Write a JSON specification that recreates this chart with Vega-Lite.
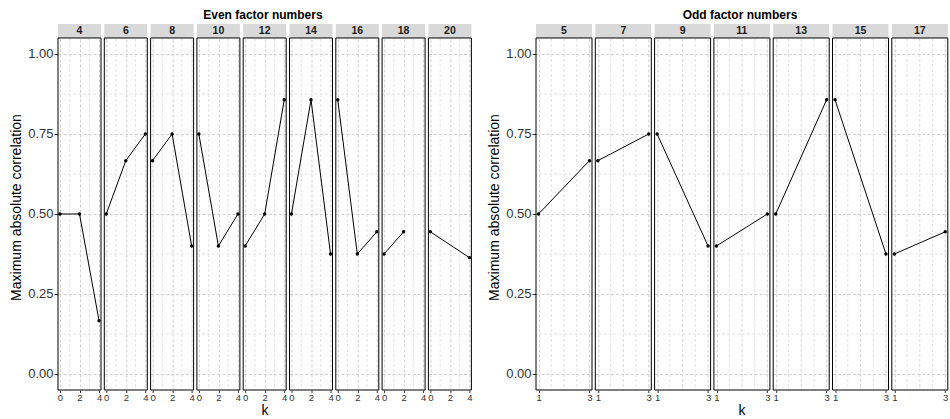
{
  "$schema": "https://vega.github.io/schema/vega-lite/v6.json",
  "padding": {"left": 9, "top": 8, "right": 0, "bottom": 0},
  "spacing": 14,
  "datasets": {
    "even": [
      {"n": 4, "k": 0, "r": 0.5}, {"n": 4, "k": 2, "r": 0.5}, {"n": 4, "k": 4, "r": 0.1667},
      {"n": 6, "k": 0, "r": 0.5}, {"n": 6, "k": 2, "r": 0.6667}, {"n": 6, "k": 4, "r": 0.75},
      {"n": 8, "k": 0, "r": 0.6667}, {"n": 8, "k": 2, "r": 0.75}, {"n": 8, "k": 4, "r": 0.4},
      {"n": 10, "k": 0, "r": 0.75}, {"n": 10, "k": 2, "r": 0.4}, {"n": 10, "k": 4, "r": 0.5},
      {"n": 12, "k": 0, "r": 0.4}, {"n": 12, "k": 2, "r": 0.5}, {"n": 12, "k": 4, "r": 0.8571},
      {"n": 14, "k": 0, "r": 0.5}, {"n": 14, "k": 2, "r": 0.8571}, {"n": 14, "k": 4, "r": 0.375},
      {"n": 16, "k": 0, "r": 0.8571}, {"n": 16, "k": 2, "r": 0.375}, {"n": 16, "k": 4, "r": 0.4444},
      {"n": 18, "k": 0, "r": 0.375}, {"n": 18, "k": 2, "r": 0.4444},
      {"n": 20, "k": 0, "r": 0.4444}, {"n": 20, "k": 4, "r": 0.3636}
    ],
    "odd": [
      {"n": 5, "k": 1, "r": 0.5}, {"n": 5, "k": 3, "r": 0.6667},
      {"n": 7, "k": 1, "r": 0.6667}, {"n": 7, "k": 3, "r": 0.75},
      {"n": 9, "k": 1, "r": 0.75}, {"n": 9, "k": 3, "r": 0.4},
      {"n": 11, "k": 1, "r": 0.4}, {"n": 11, "k": 3, "r": 0.5},
      {"n": 13, "k": 1, "r": 0.5}, {"n": 13, "k": 3, "r": 0.8571},
      {"n": 15, "k": 1, "r": 0.8571}, {"n": 15, "k": 3, "r": 0.375},
      {"n": 17, "k": 1, "r": 0.375}, {"n": 17, "k": 3, "r": 0.4444}
    ]
  },
  "hconcat": [
    {
      "data": {"name": "even"},
      "title": {"text": "Even factor numbers", "dx": 22},
      "facet": {"column": {"field": "n", "type": "ordinal", "sort": "ascending", "header": {"title": "k", "titleOrient": "bottom", "labels": false}}},
      "spacing": {"column": 3.3},
      "bounds": "flush",
      "spec": {
        "width": 43,
        "height": 366,
        "layer": [
          {"transform": [{"aggregate": [{"op": "count", "as": "c"}], "groupby": ["n"]}], "mark": {"type": "rule", "color": "#dcdcdc", "strokeDash": [3, 2], "strokeWidth": 0.8}, "encoding": {"y": {"datum": 0.125, "type": "quantitative"}}},
          {"transform": [{"aggregate": [{"op": "count", "as": "c"}], "groupby": ["n"]}], "mark": {"type": "rule", "color": "#dcdcdc", "strokeDash": [3, 2], "strokeWidth": 0.8}, "encoding": {"y": {"datum": 0.375, "type": "quantitative"}}},
          {"transform": [{"aggregate": [{"op": "count", "as": "c"}], "groupby": ["n"]}], "mark": {"type": "rule", "color": "#dcdcdc", "strokeDash": [3, 2], "strokeWidth": 0.8}, "encoding": {"y": {"datum": 0.625, "type": "quantitative"}}},
          {"transform": [{"aggregate": [{"op": "count", "as": "c"}], "groupby": ["n"]}], "mark": {"type": "rule", "color": "#dcdcdc", "strokeDash": [3, 2], "strokeWidth": 0.8}, "encoding": {"y": {"datum": 0.875, "type": "quantitative"}}},
          {"transform": [{"aggregate": [{"op": "count", "as": "c"}], "groupby": ["n"]}], "mark": {"type": "rule", "color": "#dcdcdc", "strokeDash": [3, 2], "strokeWidth": 0.8}, "encoding": {"x": {"datum": 1, "type": "quantitative"}}},
          {"transform": [{"aggregate": [{"op": "count", "as": "c"}], "groupby": ["n"]}], "mark": {"type": "rule", "color": "#dcdcdc", "strokeDash": [3, 2], "strokeWidth": 0.8}, "encoding": {"x": {"datum": 3, "type": "quantitative"}}},
          {
            "transform": [{"aggregate": [{"op": "count", "as": "c"}], "groupby": ["n"]}],
            "mark": {"type": "rect", "fill": "#d9d9d9"},
            "encoding": {
              "x": {"datum": -0.2, "type": "quantitative", "scale": {"domain": [-0.2, 4.2], "nice": false, "zero": false}},
              "x2": {"datum": 4.2},
              "y": {"datum": 1.05, "type": "quantitative", "scale": {"domain": [-0.05, 1.0937], "nice": false, "zero": false}},
              "y2": {"datum": 1.0937}
            }
          },
          {
            "mark": {"type": "line", "color": "black", "strokeWidth": 1},
            "encoding": {
              "x": {"field": "k", "type": "quantitative", "scale": {"domain": [-0.2, 4.2], "nice": false, "zero": false},
                "axis": {"title": null, "values": [0, 2, 4], "tickCount": 20, "format": "d"}},
              "y": {"field": "r", "type": "quantitative", "scale": {"domain": [-0.05, 1.0937], "nice": false, "zero": false},
                "axis": {"title": "Maximum absolute correlation", "values": [0, 0.25, 0.5, 0.75, 1], "tickCount": 20, "format": ".2f"}}
            }
          },
          {
            "mark": {"type": "point", "filled": true, "color": "black", "size": 12, "opacity": 1},
            "encoding": {
              "x": {"field": "k", "type": "quantitative"},
              "y": {"field": "r", "type": "quantitative"}
            }
          },
          {
            "transform": [{"aggregate": [{"op": "count", "as": "c"}], "groupby": ["n"]}],
            "mark": {"type": "rect", "filled": false, "stroke": "black", "strokeWidth": 1},
            "encoding": {
              "x": {"datum": -0.2, "type": "quantitative"},
              "x2": {"datum": 4.2},
              "y": {"datum": -0.05, "type": "quantitative"},
              "y2": {"datum": 1.05}
            }
          },
          {
            "transform": [{"aggregate": [{"op": "count", "as": "c"}], "groupby": ["n"]}],
            "mark": {"type": "text", "fontWeight": "bold", "fontSize": 10.5, "color": "#1a1a1a", "baseline": "middle"},
            "encoding": {
              "x": {"datum": 2, "type": "quantitative"},
              "y": {"datum": 1.0718, "type": "quantitative"},
              "text": {"field": "n", "type": "nominal"}
            }
          }
        ]
      }
    },
    {
      "data": {"name": "odd"},
      "title": {"text": "Odd factor numbers", "dx": 22},
      "facet": {"column": {"field": "n", "type": "ordinal", "sort": "ascending", "header": {"title": "k", "titleOrient": "bottom", "labels": false}}},
      "spacing": {"column": 3.3},
      "bounds": "flush",
      "spec": {
        "width": 56,
        "height": 366,
        "layer": [
          {"transform": [{"aggregate": [{"op": "count", "as": "c"}], "groupby": ["n"]}], "mark": {"type": "rule", "color": "#dcdcdc", "strokeDash": [3, 2], "strokeWidth": 0.8}, "encoding": {"y": {"datum": 0.125, "type": "quantitative"}}},
          {"transform": [{"aggregate": [{"op": "count", "as": "c"}], "groupby": ["n"]}], "mark": {"type": "rule", "color": "#dcdcdc", "strokeDash": [3, 2], "strokeWidth": 0.8}, "encoding": {"y": {"datum": 0.375, "type": "quantitative"}}},
          {"transform": [{"aggregate": [{"op": "count", "as": "c"}], "groupby": ["n"]}], "mark": {"type": "rule", "color": "#dcdcdc", "strokeDash": [3, 2], "strokeWidth": 0.8}, "encoding": {"y": {"datum": 0.625, "type": "quantitative"}}},
          {"transform": [{"aggregate": [{"op": "count", "as": "c"}], "groupby": ["n"]}], "mark": {"type": "rule", "color": "#dcdcdc", "strokeDash": [3, 2], "strokeWidth": 0.8}, "encoding": {"y": {"datum": 0.875, "type": "quantitative"}}},
          {"transform": [{"aggregate": [{"op": "count", "as": "c"}], "groupby": ["n"]}], "mark": {"type": "rule", "color": "#dcdcdc", "strokeDash": [3, 2], "strokeWidth": 0.8}, "encoding": {"x": {"datum": 1.5, "type": "quantitative"}}},
          {"transform": [{"aggregate": [{"op": "count", "as": "c"}], "groupby": ["n"]}], "mark": {"type": "rule", "color": "#cfcfcf", "strokeDash": [3, 2], "strokeWidth": 0.8}, "encoding": {"x": {"datum": 2, "type": "quantitative"}}},
          {"transform": [{"aggregate": [{"op": "count", "as": "c"}], "groupby": ["n"]}], "mark": {"type": "rule", "color": "#dcdcdc", "strokeDash": [3, 2], "strokeWidth": 0.8}, "encoding": {"x": {"datum": 2.5, "type": "quantitative"}}},
          {
            "transform": [{"aggregate": [{"op": "count", "as": "c"}], "groupby": ["n"]}],
            "mark": {"type": "rect", "fill": "#d9d9d9"},
            "encoding": {
              "x": {"datum": 0.9, "type": "quantitative", "scale": {"domain": [0.9, 3.1], "nice": false, "zero": false}},
              "x2": {"datum": 3.1},
              "y": {"datum": 1.05, "type": "quantitative", "scale": {"domain": [-0.05, 1.0937], "nice": false, "zero": false}},
              "y2": {"datum": 1.0937}
            }
          },
          {
            "mark": {"type": "line", "color": "black", "strokeWidth": 1},
            "encoding": {
              "x": {"field": "k", "type": "quantitative", "scale": {"domain": [0.9, 3.1], "nice": false, "zero": false},
                "axis": {"title": null, "values": [1, 3], "tickCount": 20, "format": "d"}},
              "y": {"field": "r", "type": "quantitative", "scale": {"domain": [-0.05, 1.0937], "nice": false, "zero": false},
                "axis": {"title": "Maximum absolute correlation", "values": [0, 0.25, 0.5, 0.75, 1], "tickCount": 20, "format": ".2f"}}
            }
          },
          {
            "mark": {"type": "point", "filled": true, "color": "black", "size": 12, "opacity": 1},
            "encoding": {
              "x": {"field": "k", "type": "quantitative"},
              "y": {"field": "r", "type": "quantitative"}
            }
          },
          {
            "transform": [{"aggregate": [{"op": "count", "as": "c"}], "groupby": ["n"]}],
            "mark": {"type": "rect", "filled": false, "stroke": "black", "strokeWidth": 1},
            "encoding": {
              "x": {"datum": 0.9, "type": "quantitative"},
              "x2": {"datum": 3.1},
              "y": {"datum": -0.05, "type": "quantitative"},
              "y2": {"datum": 1.05}
            }
          },
          {
            "transform": [{"aggregate": [{"op": "count", "as": "c"}], "groupby": ["n"]}],
            "mark": {"type": "text", "fontWeight": "bold", "fontSize": 10.5, "color": "#1a1a1a", "baseline": "middle"},
            "encoding": {
              "x": {"datum": 2, "type": "quantitative"},
              "y": {"datum": 1.0718, "type": "quantitative"},
              "text": {"field": "n", "type": "nominal"}
            }
          }
        ]
      }
    }
  ],
  "config": {
    "font": "Liberation Sans",
    "view": {"stroke": null},
    "title": {"fontSize": 12, "fontWeight": "bold", "color": "black", "anchor": "middle", "offset": 2},
    "header": {"titleFontSize": 14, "titleFontWeight": "normal", "titleColor": "black", "titlePadding": -8, "labelPadding": 0},
    "axisX": {"domain": false, "labelFontSize": 9.5, "labelColor": "#333333", "tickColor": "#333333", "tickSize": 2.5, "labelPadding": 0,
      "grid": true, "gridColor": "#c4c4c4", "gridDash": [3, 2], "gridWidth": 0.8, "labelFlush": false, "labelOverlap": false},
    "axisY": {"domain": false,
      "labelFontSize": 13, "labelColor": "#333333", "tickColor": "#333333", "tickSize": 4, "labelPadding": 1,
      "titleFontSize": 14, "titleFontWeight": "normal", "titleColor": "black", "titlePadding": 4,
      "grid": true, "gridColor": "#c4c4c4", "gridDash": [3, 2], "gridWidth": 0.8, "labelOverlap": false}
  }
}
